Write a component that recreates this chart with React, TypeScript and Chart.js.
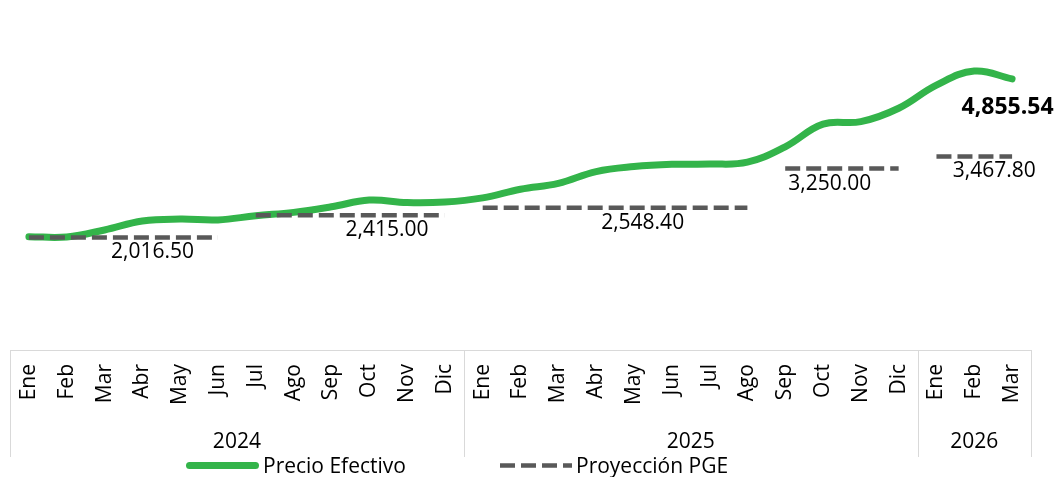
import { useEffect, useRef } from 'react';
import { Chart, registerables } from 'chart.js';

Chart.register(...registerables);

const MONTHS_2024 = ['Ene', 'Feb', 'Mar', 'Abr', 'May', 'Jun', 'Jul', 'Ago', 'Sep', 'Oct', 'Nov', 'Dic'];
const MONTHS_2025 = ['Ene', 'Feb', 'Mar', 'Abr', 'May', 'Jun', 'Jul', 'Ago', 'Sep', 'Oct', 'Nov', 'Dic'];
const MONTHS_2026 = ['Ene', 'Feb', 'Mar'];
const YEARS = ['2024', '2025', '2026'];
const CATEGORIES = [...MONTHS_2024, ...MONTHS_2025, ...MONTHS_2026];
const YEAR_COUNTS = [MONTHS_2024.length, MONTHS_2025.length, MONTHS_2026.length];

const PRECIO_EFECTIVO = [
  2030, 2025, 2150, 2310, 2345, 2330, 2405, 2465, 2565, 2685, 2640, 2650,
  2725, 2880, 2985, 3195, 3285, 3325, 3330, 3365, 3640, 4045, 4090, 4330,
  4745, 4995, 4855.54,
];

const PROYECCION_PGE = [
  2016.5, 2016.5, 2016.5, 2016.5, 2016.5, 2016.5,
  2415.0, 2415.0, 2415.0, 2415.0, 2415.0, 2415.0,
  2548.4, 2548.4, 2548.4, 2548.4, 2548.4, 2548.4, 2548.4, 2548.4,
  3250.0, 3250.0, 3250.0, 3250.0,
  3467.8, 3467.8, 3467.8,
];

const PGE_LABEL_VALUES = [2016.5, 2415.0, 2548.4, 3250.0, 3467.8];
// label anchors (fractional category index)
const PGE_LABEL_AT = [3.27, 9.47, 16.23, 21.18, 25.53];
const LAST_LABEL_AT = 25.88;

const GREEN = '#33B44A';
const GRAY = '#595959';
const FONT = '"Open Sans", "Liberation Sans", sans-serif';

const fmt = (v: number) =>
  v.toLocaleString('en-US', { minimumFractionDigits: 2, maximumFractionDigits: 2 });

const overlayPlugin = {
  id: 'overlay',
  afterDraw(chart: any) {
    const { ctx, chartArea, scales } = chart;
    const x = scales.x;
    const y = scales.y;
    ctx.save();

    // PGE value labels
    ctx.fillStyle = '#000';
    ctx.textAlign = 'center';
    ctx.textBaseline = 'alphabetic';
    ctx.font = `21px ${FONT}`;
    PGE_LABEL_VALUES.forEach((v, i) => {
      ctx.fillText(fmt(v), x.getPixelForValue(PGE_LABEL_AT[i]), y.getPixelForValue(v) + 21);
    });

    // last value label
    const last = PRECIO_EFECTIVO[PRECIO_EFECTIVO.length - 1];
    ctx.font = `bold 23px ${FONT}`;
    ctx.fillText(fmt(last), x.getPixelForValue(LAST_LABEL_AT), y.getPixelForValue(last) + 35);

    // year group separators and labels
    const top = chartArea.bottom;
    const bottom = x.bottom;
    ctx.strokeStyle = '#D9D9D9';
    ctx.lineWidth = 1;
    let start = 0;
    const edges: number[] = [x.getPixelForValue(-0.5)];
    YEAR_COUNTS.forEach((n) => {
      start += n;
      edges.push(x.getPixelForValue(start - 0.5));
    });
    edges.forEach((px) => {
      const p = Math.round(px) + 0.5;
      ctx.beginPath();
      ctx.moveTo(p, top);
      ctx.lineTo(p, bottom);
      ctx.stroke();
    });
    ctx.font = `21px ${FONT}`;
    ctx.fillStyle = '#000';
    YEARS.forEach((yr, i) => {
      const cx = (edges[i] + edges[i + 1]) / 2;
      ctx.fillText(yr, cx, 448);
    });

    // legend
    const ds = chart.data.datasets;
    const ly = 465.5;
    ctx.lineCap = 'round';
    ctx.setLineDash([]);
    ctx.strokeStyle = GREEN;
    ctx.lineWidth = 7;
    ctx.beginPath();
    ctx.moveTo(189.5, ly);
    ctx.lineTo(255.5, ly);
    ctx.stroke();

    ctx.lineCap = 'butt';
    ctx.setLineDash([15, 6]);
    ctx.strokeStyle = GRAY;
    ctx.lineWidth = 4.5;
    ctx.beginPath();
    ctx.moveTo(500, ly);
    ctx.lineTo(572, ly);
    ctx.stroke();
    ctx.setLineDash([]);

    ctx.textAlign = 'left';
    ctx.fillStyle = '#000';
    ctx.font = `21px ${FONT}`;
    ctx.fillText(ds[0].label, 263, 473);
    ctx.fillText(ds[1].label, 576, 473);

    ctx.restore();
  },
};

export default function App() {
  const ref = useRef<HTMLCanvasElement | null>(null);

  useEffect(() => {
    if (!ref.current) return;
    const chart = new Chart(ref.current, {
      type: 'line',
      data: {
        labels: CATEGORIES,
        datasets: [
          {
            label: 'Precio Efectivo',
            data: PRECIO_EFECTIVO,
            borderColor: GREEN,
            backgroundColor: GREEN,
            borderWidth: 7,
            borderCapStyle: 'round',
            borderJoinStyle: 'round',
            tension: 0.4,
            pointRadius: 0,
            fill: false,
            order: 1,
          },
          {
            label: 'Proyección PGE',
            data: PROYECCION_PGE,
            borderColor: GRAY,
            backgroundColor: GRAY,
            borderWidth: 4.5,
            borderDash: [15, 6],
            borderCapStyle: 'butt',
            tension: 0,
            pointRadius: 0,
            fill: false,
            order: 0,
            segment: {
              borderColor: (c: any) =>
                c.p0.parsed.y !== c.p1.parsed.y ? 'rgba(0,0,0,0)' : GRAY,
            },
          } as any,
        ],
      },
      options: {
        animation: false,
        responsive: false,
        devicePixelRatio: 1,
        layout: { padding: { left: 10, right: 28, top: 15, bottom: 20 } },
        plugins: {
          legend: { display: false },
          tooltip: { enabled: false },
        },
        scales: {
          x: {
            type: 'category',
            offset: true,
            grid: { display: false, drawTicks: false },
            border: { display: true, color: '#D9D9D9', width: 1 },
            ticks: {
              autoSkip: false,
              minRotation: 90,
              maxRotation: 90,
              padding: 14,
              color: '#000',
              font: { family: FONT, size: 21 },
            },
            afterFit: (scale: any) => {
              scale.height = 107;
            },
          },
          y: {
            display: false,
            min: 0,
            max: 6000,
          },
        },
      },
      plugins: [overlayPlugin],
    });
    return () => chart.destroy();
  }, []);

  return (
    <div style={{ position: 'fixed', left: 0, top: 0, width: 1059, height: 477, background: '#fff' }}>
      <canvas ref={ref} width={1059} height={477} style={{ width: 1059, height: 477 }} />
    </div>
  );
}
